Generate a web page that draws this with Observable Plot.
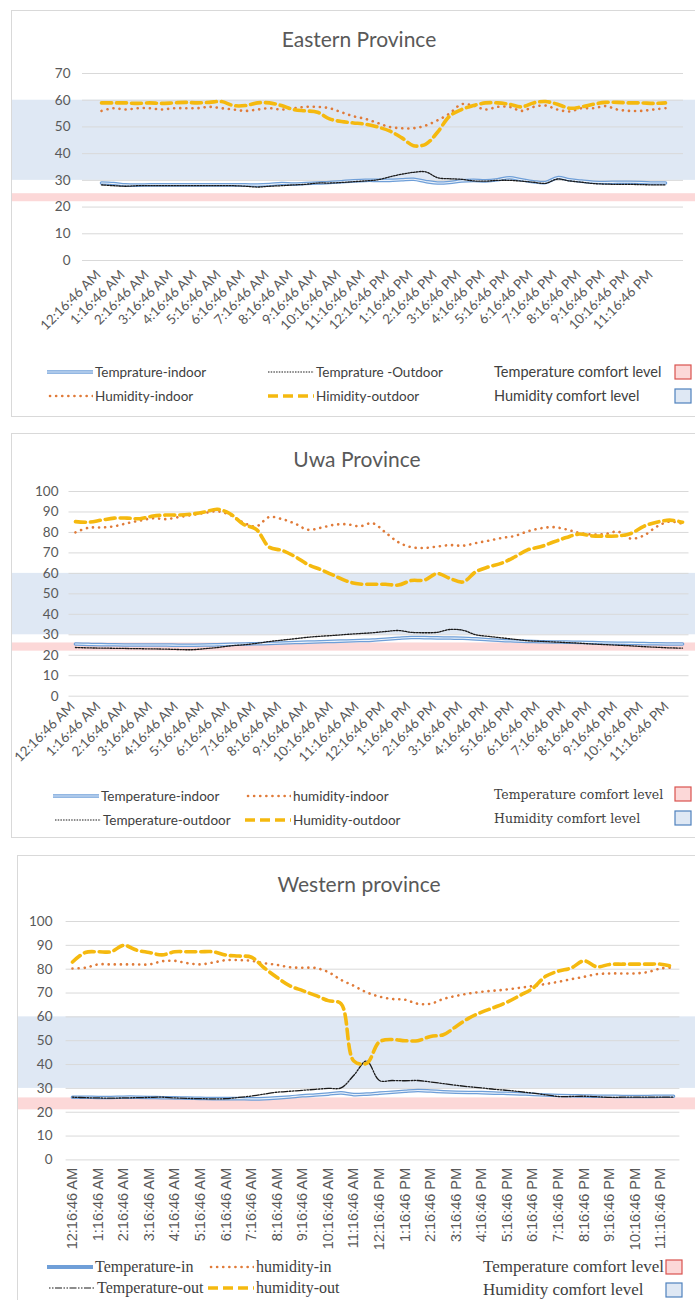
<!DOCTYPE html>
<html><head><meta charset="utf-8">
<script src="https://cdn.jsdelivr.net/npm/d3@7"></script>
<script src="https://cdn.jsdelivr.net/npm/@observablehq/plot@0.6"></script>
<style>
body{margin:0;background:#fff;width:695px;height:1300px;position:relative;overflow:hidden;font-family:Lato,"Open Sans",sans-serif;color:#595959}
.box{position:absolute;border:1px solid #d9d9d9;box-sizing:border-box}
.title{position:absolute;text-align:center;font-size:21px;color:#595959;width:400px}
.leg{position:absolute;white-space:nowrap;display:flex;align-items:center;font-size:13.5px;color:#404040}
.leg svg{margin-right:2px}
</style></head>
<body>
<div id="root"></div>
<script>
// ---------- data ----------
const tickLabels = ["12:16:46 AM","1:16:46 AM","2:16:46 AM","3:16:46 AM","4:16:46 AM","5:16:46 AM","6:16:46 AM","7:16:46 AM","8:16:46 AM","9:16:46 AM","10:16:46 AM","11:16:46 AM","12:16:46 PM","1:16:46 PM","2:16:46 PM","3:16:46 PM","4:16:46 PM","5:16:46 PM","6:16:46 PM","7:16:46 PM","8:16:46 PM","9:16:46 PM","10:16:46 PM","11:16:46 PM"];

const easternTempIndoor = [29,28.8,28.3,28.2,28.3,28.3,28.3,28.3,28.3,28.3,28.3,28.3,28.3,28.2,28.4,28.8,28.6,28.8,29,29.2,29.5,29.8,30,30,30,30.2,30.4,29.6,29,29.2,29.8,30,29.8,30.2,31,30.2,29.5,29.2,31,30.2,29.7,29.3,29.2,29.3,29.3,29.2,29,29];
const easternTempOutdoor = [28.3,28,27.8,28,28,28,28,28,28,28,28,28,27.8,27.5,27.8,28,28.3,28.5,29,29,29.2,29.5,29.8,30.2,31.3,32.3,33,33.2,31,30.6,30.4,29.8,29.7,30,30,29.7,29.3,28.9,30.5,29.8,29.3,28.8,28.6,28.5,28.5,28.4,28.3,28.3];
const easternHumIndoor = [56,57,56.5,57,57,56.5,57,57,57,57.5,57,56.5,56,56.5,57,56.5,57,57.5,57.5,57,55.5,54,53,51.5,50,49.5,49.5,50.5,52.5,55,58.5,58,56.5,57.5,57.5,56,57.5,58,56.5,55.8,57,57,57.8,56.5,56,56,56.5,57];
const easternHumOutdoor = [59,59,59,58.8,59,58.8,59,59.2,59,59.2,59.5,58,58,59,59,58,56.5,56,55.5,53,52,51.5,51,50,48.5,46,43,43.5,48,54,56.5,58,59,59,58.5,57.5,59,59.5,58.5,57,57.5,58.5,59.2,59.2,59,59,58.8,59];

const uwaTempIndoor = [25.5,25.3,25.2,25.1,25,25,25,25,24.9,24.9,25,25.1,25.3,25.5,25.6,25.8,26,26.2,26.4,26.6,26.8,27,27.2,27.4,27.8,28.3,28.7,28.6,28.5,28.4,28.3,28,27.6,27.2,27,26.8,26.6,26.5,26.4,26.3,26.2,26,25.9,25.8,25.7,25.6,25.5,25.5];
const uwaTempOutdoor = [23.8,23.6,23.5,23.4,23.3,23.2,23.1,23,22.8,22.7,23.2,23.8,24.6,25.1,25.8,26.7,27.4,28.1,28.8,29.3,29.7,30.2,30.6,31,31.6,32.1,31.2,31,31.2,32.6,32.2,30,29.2,28.5,27.8,27.1,26.8,26.5,26.2,25.9,25.5,25.2,24.9,24.6,24.2,23.9,23.6,23.5];
const uwaHumIndoor = [80,82.3,82.4,83,84.5,85.8,86.9,86.5,87.5,88.5,89.5,90.3,88.5,84.8,83,87.5,86.5,84.3,81.3,82.3,83.7,84,83,84.5,80,75.2,72.8,72.4,73.1,73.8,73.5,74.8,76,77.3,78.3,80.5,82,82.6,81.5,79.8,79,79.2,80.4,77,78.5,82.8,85.3,84.2];
const uwaHumOutdoor = [85.3,85,86,87,87,86.7,88,88.5,88.5,89,90,91.3,89,84,81.5,72.8,71.2,68.2,64.3,61.8,59,56.2,54.8,54.7,54.7,54.3,56.5,56.7,59.9,57.5,55.8,60.8,63.2,65,68,71.5,73,75.3,77.5,79.2,78.3,78.2,78.3,79.5,83,85,86,85];

const westernTempIn = [26.3,26.3,26.2,26.2,26.3,26.3,26.2,26.1,26,25.9,25.8,25.7,25.7,25.7,25.6,25.7,26,26.4,26.9,27.2,27.6,28.1,27.4,27.6,28,28.4,28.8,29.1,28.9,28.6,28.4,28.3,28.2,28,27.9,27.7,27.5,27.2,27,26.9,26.8,26.7,26.7,26.6,26.6,26.6,26.7,26.7];
const westernTempOut = [26.3,26.1,26,25.9,26,26.1,26.2,26.3,26,25.8,25.7,25.6,25.7,26.2,26.8,27.6,28.4,28.8,29.2,29.6,30,30.2,35.5,41.5,33.3,33.3,33.2,33.3,32.7,32,31.3,30.7,30.2,29.6,29.2,28.6,28,27.3,26.6,26.6,26.7,26.5,26.2,26.3,26.3,26.3,26.3,26.3];
const westernHumIn = [80.3,80.6,82,82,82,82,82,83.3,83.5,82.5,82,82.8,83.8,83.8,83.5,82.5,81.8,80.8,80.6,80.5,78.8,75.5,73,70.3,68.5,67.5,67.2,65.5,65.5,67.5,68.8,69.8,70.5,71,71.5,72.2,72.9,73.8,74.7,75.8,76.8,77.9,78.2,78.2,78.2,78.8,80.3,80.6];
const westernHumOut = [83,87,87.3,87.3,90,88,87,86,87.3,87.3,87.3,87.3,85.9,85.5,85,80.5,76.5,73,71,69,66.8,65.5,41.5,40.5,49.5,50.5,50,50,51.8,52.5,56,59.5,62,64,66.2,69,72,77,79.2,80.5,83.5,81,82,82.1,82.1,82.1,82.1,81];

const humidityComfort = [30, 60];
const easternTempComfort = [22, 25];
const uwaTempComfort = [22, 26];
const westernTempComfort = [21, 26];

// ---------- styles ----------
const C = {
  tin: "#6f9fd8", tinInner: "#eaf2fb",
  tout: "#1a1a1a",
  hin: "#e07b39",
  hout: "#f5b90f",
  hband: "#dfe8f4", tband: "#fcd8d8",
  grid: "#d9d9d9", text: "#595959"
};
const rows = arr => arr.map((v, i) => ({i, v}));
const N = easternTempIndoor.length;

function chart(o) {
  const xs = {type: "point", domain: d3.range(N), padding: 0.5, range: o.xRange, axis: null};
  const lines = [
    Plot.line(rows(o.tin), {x: "i", y: "v", stroke: C.tin, strokeWidth: 3.6, curve: "catmull-rom"}),
    Plot.line(rows(o.tin), {x: "i", y: "v", stroke: C.tinInner, strokeWidth: 1.1, curve: "catmull-rom"}),
    Plot.line(rows(o.tout), {x: "i", y: "v", stroke: C.tout, strokeWidth: 1.3, strokeDasharray: o.toutDash, curve: "catmull-rom"}),
    Plot.line(rows(o.hin), {x: "i", y: "v", stroke: C.hin, strokeWidth: 2.6, strokeDasharray: "0.1,6", strokeLinecap: "round", curve: "catmull-rom"}),
    Plot.line(rows(o.hout), {x: "i", y: "v", stroke: C.hout, strokeWidth: 3.6, strokeDasharray: "10,5", curve: "catmull-rom"})
  ];
  return Plot.plot({
    width: 695, height: o.height,
    marginTop: o.mt, marginBottom: o.mb, marginLeft: o.xRange[0], marginRight: 695 - o.xRange[1],
    x: xs,
    y: {domain: [0, o.yMax], axis: null},
    style: {fontFamily: "Lato, sans-serif", color: C.text, background: "transparent", overflow: "visible"},
    marks: [
      Plot.rect([{lo: humidityComfort[0], hi: humidityComfort[1]}], {y1: "lo", y2: "hi", fill: C.hband, insetLeft: -(o.xRange[0] - o.boxLeft), insetRight: -(695 - o.xRange[1])}),
      Plot.rect([{lo: o.tComfort[0], hi: o.tComfort[1]}], {y1: "lo", y2: "hi", fill: C.tband, insetLeft: -(o.xRange[0] - o.boxLeft), insetRight: -(695 - o.xRange[1])}),
      Plot.gridY(d3.range(0, o.yMax + 1, 10), {stroke: C.grid, strokeOpacity: 1, strokeWidth: 1}),
      Plot.axisY(d3.range(0, o.yMax + 1, 10), {tickSize: 0, tickPadding: o.yPad, fontSize: 13.5, fill: C.text, label: null}),
      Plot.axisX(d3.range(0, N, 2), {tickSize: 0, tickRotate: o.rot, tickPadding: o.xPad, dx: o.xdx || 0, fontSize: o.xFont, fontFamily: o.xFamily, fill: C.text, label: null, tickFormat: i => tickLabels[i / 2]}),
      ...lines
    ]
  });
}

const root = document.getElementById("root");
function place(el, left, top) { el.style.position = "absolute"; el.style.left = left + "px"; el.style.top = top + "px"; root.appendChild(el); return el; }
function div(cls, html, left, top, extra) { const d = document.createElement("div"); d.className = cls; d.innerHTML = html; if (extra) Object.assign(d.style, extra); return place(d, left, top); }

function swatch(kind) {
  const w = 46, h = 10;
  const ln = (s) => `<svg width="${w}" height="${h}">${s}</svg>`;
  if (kind === "tin") return ln(`<line x1="0" y1="5" x2="${w}" y2="5" stroke="${C.tin}" stroke-width="3.6"/><line x1="0" y1="5" x2="${w}" y2="5" stroke="${C.tinInner}" stroke-width="1.1"/>`);
  if (kind === "tinSolid") return ln(`<line x1="0" y1="5" x2="${w}" y2="5" stroke="${C.tin}" stroke-width="4"/>`);
  if (kind === "tout") return ln(`<line x1="0" y1="5" x2="${w}" y2="5" stroke="${C.tout}" stroke-width="1.2" stroke-dasharray="1.5,1.2"/>`);
  if (kind === "toutDD") return ln(`<line x1="0" y1="5" x2="${w}" y2="5" stroke="${C.tout}" stroke-width="1.2" stroke-dasharray="1.5,1.5,1.5,1.5,7,1.5"/>`);
  if (kind === "hin") return ln(`<line x1="3" y1="5" x2="${w}" y2="5" stroke="${C.hin}" stroke-width="2.6" stroke-dasharray="0.1,6" stroke-linecap="round"/>`);
  if (kind === "hout") return ln(`<line x1="0" y1="5" x2="${w}" y2="5" stroke="${C.hout}" stroke-width="3.6" stroke-dasharray="10,5"/>`);
  if (kind === "tbox") return `<svg width="18" height="16"><rect x="1" y="1" width="16" height="14" fill="${C.tband}" stroke="#d9534f" stroke-width="1.2"/></svg>`;
  if (kind === "hbox") return `<svg width="18" height="16"><rect x="1" y="1" width="16" height="14" fill="${C.hband}" stroke="#4f81bd" stroke-width="1.2"/></svg>`;
}
function legItem(kind, text, left, top, extra) { return div("leg", swatch(kind) + `<span>${text}</span>`, left, top, extra); }
function legBox(kind, text, left, top, textWidth, extra) {
  return div("leg", `<span style="display:inline-block;width:${textWidth}px">${text}</span>` + swatch(kind), left, top, extra);
}

// ---------- Panel 1: Eastern ----------
div("box", "", 11, 10, {width: "700px", height: "407px"});
div("title", "Eastern Province", 159, 26);
place(chart({
  tin: easternTempIndoor, tout: easternTempOutdoor, hin: easternHumIndoor, hout: easternHumOutdoor,
  yMax: 70, tComfort: easternTempComfort, height: 300, mt: 13, mb: 100, xRange: [82, 683], boxLeft: 12,
  yPad: 12, rot: -45, xPad: 12, xdx: -3, xFont: 13.5, xFamily: "Lato, sans-serif", toutDash: "1.6,1.3"
}), 0, 60);
legItem("tin", "Temprature-indoor", 47, 364);
legItem("tout", "Temprature -Outdoor", 268, 364);
legItem("hin", "Humidity-indoor", 47, 388);
legItem("hout", "Himidity-outdoor", 268, 388);
legBox("tbox", "Temperature comfort level", 494, 363, 180, {fontSize: "14.5px"});
legBox("hbox", "Humidity comfort level", 494, 387, 180, {fontSize: "14.5px"});

// ---------- Panel 2: Uwa ----------
div("box", "", 11, 433, {width: "700px", height: "405px"});
div("title", "Uwa Province", 157, 446);
place(chart({
  tin: uwaTempIndoor, tout: uwaTempOutdoor, hin: uwaHumIndoor, hout: uwaHumOutdoor,
  yMax: 100, tComfort: uwaTempComfort, height: 300, mt: 11, mb: 84.3, xRange: [68.5, 688.5], boxLeft: 12,
  yPad: 10.5, rot: -45, xPad: 8, xdx: -3, xFont: 13.5, xFamily: "Lato, sans-serif", toutDash: "1.6,1.3"
}), 0, 480);
legItem("tin", "Temperature-indoor", 53, 788);
legItem("hin", "humidity-indoor", 245, 788);
legItem("tout", "Temperature-outdoor", 55, 812);
legItem("hout", "Humidity-outdoor", 245, 812);
const uwaSerif = {fontFamily: "'DejaVu Serif', 'Liberation Serif', serif", fontSize: "12.5px"};
legBox("tbox", "Temperature comfort level", 494, 786, 180, uwaSerif);
legBox("hbox", "Humidity comfort level", 494, 810, 180, uwaSerif);

// ---------- Panel 3: Western ----------
div("box", "", 17, 855, {width: "700px", height: "460px"});
div("title", "Western province", 159, 871);
place(chart({
  tin: westernTempIn, tout: westernTempOut, hin: westernHumIn, hout: westernHumOut,
  yMax: 100, tComfort: westernTempComfort, height: 355, mt: 16, mb: 100.6, xRange: [65.6, 679.4], boxLeft: 18,
  yPad: 13.6, rot: -90, xPad: 8, xdx: 0, xFont: 14.5, xFamily: "'Liberation Sans', Arial, sans-serif", toutDash: "1.5,1.5,1.5,1.5,7,1.5"
}), 0, 905);
const serifL = {fontFamily: "'Liberation Serif', 'Times New Roman', serif", fontSize: "16px"};
const serifR = {fontFamily: "'Liberation Serif', 'Times New Roman', serif", fontSize: "17px"};
legItem("tinSolid", "Temperature-in", 47, 1258, serifL);
legItem("hin", "humidity-in", 208, 1258, serifL);
legItem("toutDD", "Temperature-out", 49, 1279, serifL);
legItem("hout", "humidity-out", 208, 1279, serifL);
legBox("tbox", "Temperature comfort level", 483, 1257, 182, serifR);
legBox("hbox", "Humidity comfort level", 483, 1280, 182, serifR);
</script>
</body></html>
